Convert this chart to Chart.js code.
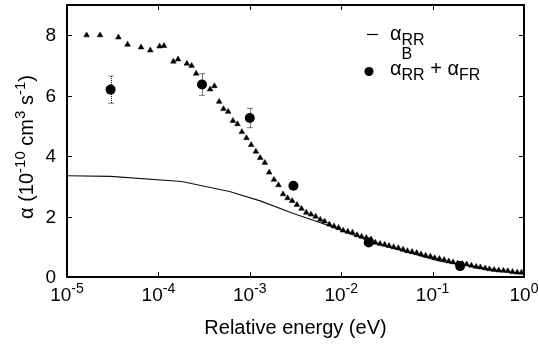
<!DOCTYPE html>
<html>
<head>
<meta charset="utf-8">
<script src="https://cdn.jsdelivr.net/npm/chart.js@4.4.0/dist/chart.umd.min.js"></script>
<style>
  html, body { margin: 0; padding: 0; background: #fff; }
  #wrap { width: 539px; height: 347px; }
</style>
</head>
<body>
<div id="wrap"><canvas id="grafica"></canvas></div>
<script>
// triangulos (datos medidos)
const energiaTri = [1.64e-5, 2.3e-5, 3.65e-5, 4.6e-5, 6.46e-5, 8.15e-5, 1.03e-4, 1.15e-4, 1.46e-4, 1.64e-4,
  2.05e-4, 2.31e-4, 2.59e-4, 3.68e-4, 4.1e-4, 4.62e-4, 5.15e-4, 5.8e-4, 6.53e-4, 7.33e-4,
  8.18e-4, 9.2e-4, 1.035e-3, 1.166e-3, 1.30e-3, 1.46e-3, 1.63e-3, 1.84e-3, 2.06e-3, 2.31e-3,
  2.59e-3, 2.91e-3, 3.28e-3, 3.68e-3, 4.15e-3, 4.67e-3, 5.25e-3, 5.9e-3, 6.58e-3, 7.41e-3,
  8.34e-3, 9.36e-3, 1.05e-2, 1.18e-2, 1.33e-2, 1.49e-2, 1.67e-2, 1.88e-2, 2.12e-2, 2.36e-2,
  2.66e-2, 2.99e-2, 3.34e-2, 3.75e-2, 4.22e-2, 4.75e-2, 5.3e-2, 5.96e-2, 6.7e-2, 7.48e-2,
  8.4e-2, 9.46e-2, 0.1055, 0.1187, 0.1336, 0.150, 0.1676, 0.188, 0.212, 0.236,
  0.266, 0.299, 0.333, 0.376, 0.419, 0.471, 0.529, 0.596, 0.665, 0.749, 0.843, 0.94]
const alfaTri = [8.00, 8.00, 7.93, 7.69, 7.60, 7.50, 7.63, 7.65, 7.13, 7.20,
  7.06, 6.99, 6.73, 6.21, 6.32, 5.80, 5.56, 5.47, 5.17, 5.06,
  4.80, 4.60, 4.37, 4.15, 3.94, 3.78, 3.46, 3.22, 3.04, 2.74,
  2.61, 2.52, 2.39, 2.26, 2.13, 2.07, 2.00, 1.90, 1.84, 1.74,
  1.68, 1.63, 1.54, 1.50, 1.47, 1.39, 1.34, 1.30, 1.25, 1.14,
  1.10, 1.07, 1.03, 0.99, 0.96, 0.91, 0.86, 0.83, 0.80, 0.75,
  0.71, 0.68, 0.63, 0.60, 0.57, 0.52, 0.49, 0.45, 0.43, 0.42,
  0.38, 0.34, 0.32, 0.29, 0.26, 0.24, 0.22, 0.21, 0.20, 0.17, 0.15, 0.15]

// linea alfa RR
const energiaRR = [1e-5, 3e-5, 1.8e-4, 6e-4, 1.3e-3, 3e-3, 7e-3, 1.25e-2, 2.7e-2, 0.12, 1.0]
const alfaRR = [3.35, 3.33, 3.16, 2.83, 2.52, 2.10, 1.72, 1.43, 1.07, 0.52, 0.09]

// circulos con barras de error
const energiaB = [3e-5, 3e-4, 1e-3, 3e-3, 2e-2, 0.2]
const alfaB = [6.2, 6.37, 5.26, 3.02, 1.14, 0.36]
const errorB = [0.45, 0.36, 0.32, 0, 0, 0]

// etiquetas de ejes
const exponentesX = [-5, -4, -3, -2, -1, 0]
const valoresY = [0, 2, 4, 6, 8]

const fuente = '"Liberation Sans", Arial, Helvetica, sans-serif'

function puntos(xs, ys){
  return xs.map((x, i) => ({x: x, y: ys[i]}))
}

// dibuja texto con partes normales, subindices y superindices
function textoCompuesto(ctx, partes, x, y){
  let px = x
  partes.forEach(p => {
    ctx.font = p.size + 'px ' + fuente
    ctx.fillText(p.t, px, y + (p.dy || 0))
    if (!p.sobre) px += ctx.measureText(p.t).width
  })
  return px
}
function anchoCompuesto(ctx, partes){
  let w = 0
  partes.forEach(p => {
    ctx.font = p.size + 'px ' + fuente
    if (!p.sobre) w += ctx.measureText(p.t).width
  })
  return w
}

const barrasError = {
  id: 'barrasError',
  beforeDatasetsDraw(chart){
    const ctx = chart.ctx
    const sx = chart.scales.x, sy = chart.scales.y
    ctx.save()
    ctx.strokeStyle = '#000'
    ctx.lineWidth = 1
    ctx.setLineDash([1, 1])
    energiaB.forEach((e, i) => {
      if (!errorB[i]) return
      const x = Math.round(sx.getPixelForValue(e)) + 0.5
      const y1 = sy.getPixelForValue(alfaB[i] + errorB[i])
      const y2 = sy.getPixelForValue(alfaB[i] - errorB[i])
      ctx.beginPath()
      ctx.moveTo(x, y1); ctx.lineTo(x, y2)
      ctx.moveTo(x - 3, y1); ctx.lineTo(x + 3, y1)
      ctx.moveTo(x - 3, y2); ctx.lineTo(x + 3, y2)
      ctx.stroke()
    })
    ctx.restore()
  }
}

const marco = {
  id: 'marco',
  afterDraw(chart){
    const ctx = chart.ctx
    const a = chart.chartArea
    const sx = chart.scales.x, sy = chart.scales.y
    ctx.save()
    ctx.strokeStyle = '#000'
    ctx.fillStyle = '#000'
    ctx.lineWidth = 2
    ctx.strokeRect(a.left, a.top, a.right - a.left, a.bottom - a.top)
    ctx.lineWidth = 1
    const largo = 5
    ctx.beginPath()
    exponentesX.forEach(ex => {
      const x = Math.round(sx.getPixelForValue(Math.pow(10, ex))) + 0.5
      ctx.moveTo(x, a.bottom); ctx.lineTo(x, a.bottom - largo)
      ctx.moveTo(x, a.top); ctx.lineTo(x, a.top + largo)
    })
    valoresY.forEach(v => {
      const y = Math.round(sy.getPixelForValue(v)) + 0.5
      ctx.moveTo(a.left, y); ctx.lineTo(a.left + largo, y)
      ctx.moveTo(a.right, y); ctx.lineTo(a.right - largo, y)
    })
    ctx.stroke()

    // etiquetas eje x
    ctx.textBaseline = 'alphabetic'
    ctx.textAlign = 'left'
    exponentesX.forEach(ex => {
      const x = sx.getPixelForValue(Math.pow(10, ex))
      const partes = [{t: '10', size: 19}, {t: String(ex), size: 14, dy: -8}]
      const w = anchoCompuesto(ctx, partes)
      textoCompuesto(ctx, partes, x - w / 2, 301)
    })
    // etiquetas eje y
    ctx.font = '19px ' + fuente
    ctx.textAlign = 'right'
    ctx.textBaseline = 'middle'
    valoresY.forEach(v => {
      ctx.fillText(String(v), 56, sy.getPixelForValue(v) + 1)
    })
    // titulo eje x
    ctx.textAlign = 'center'
    ctx.textBaseline = 'alphabetic'
    ctx.font = '20px ' + fuente
    ctx.fillText('Relative energy (eV)', (a.left + a.right) / 2, 334)

    // titulo eje y
    ctx.textAlign = 'left'
    const tituloY = [
      {t: 'α (10', size: 20}, {t: '-10', size: 15, dy: -8},
      {t: ' cm', size: 20}, {t: '3', size: 15, dy: -8},
      {t: ' s', size: 20}, {t: '-1', size: 15, dy: -8},
      {t: ')', size: 20}
    ]
    ctx.save()
    ctx.translate(33, 147)
    ctx.rotate(-Math.PI / 2)
    textoCompuesto(ctx, tituloY, -anchoCompuesto(ctx, tituloY) / 2, 0)
    ctx.restore()

    // leyenda
    ctx.lineWidth = 1.2
    ctx.beginPath()
    ctx.moveTo(367, 34.5); ctx.lineTo(378, 34.5)
    ctx.stroke()
    textoCompuesto(ctx, [{t: 'α', size: 20}, {t: 'RR', size: 16, dy: 5}], 390, 40)
    ctx.beginPath()
    ctx.arc(369, 71.5, 4.5, 0, Math.PI * 2)
    ctx.fill()
    textoCompuesto(ctx, [
      {t: 'α', size: 20}, {t: 'B', size: 16, dy: -16, sobre: true}, {t: 'RR', size: 16, dy: 5},
      {t: ' + ', size: 20}, {t: 'α', size: 20}, {t: 'FR', size: 16, dy: 5}
    ], 390, 75)
    ctx.restore()
  }
}

const config = {
  type: 'scatter',
  data: {
    datasets: [
      {
        label: 'triangulos',
        data: puntos(energiaTri, alfaTri),
        pointStyle: 'triangle',
        pointRadius: 3.3,
        borderWidth: 0.5,
        backgroundColor: '#000',
        borderColor: '#000',
        showLine: false
      },
      {
        label: 'αRR',
        data: puntos(energiaRR, alfaRR),
        showLine: true,
        pointRadius: 0,
        borderWidth: 1.2,
        borderColor: '#111',
        tension: 0
      },
      {
        label: 'αBRR + αFR',
        data: puntos(energiaB, alfaB),
        pointStyle: 'circle',
        pointRadius: 5,
        borderWidth: 0,
        backgroundColor: '#000',
        borderColor: '#000',
        showLine: false
      }
    ]
  },
  options: {
    responsive: false,
    animation: false,
    layout: { padding: { left: 67, right: 15, top: 3, bottom: 70 } },
    plugins: { legend: { display: false }, tooltip: { enabled: false } },
    scales: {
      x: { type: 'logarithmic', min: 1e-5, max: 1, display: false },
      y: { type: 'linear', min: 0, max: 9, display: false }
    }
  },
  plugins: [barrasError, marco]
}

const lienzo = document.getElementById('grafica')
lienzo.width = 539
lienzo.height = 347
new Chart(lienzo, config)
</script>
</body>
</html>
